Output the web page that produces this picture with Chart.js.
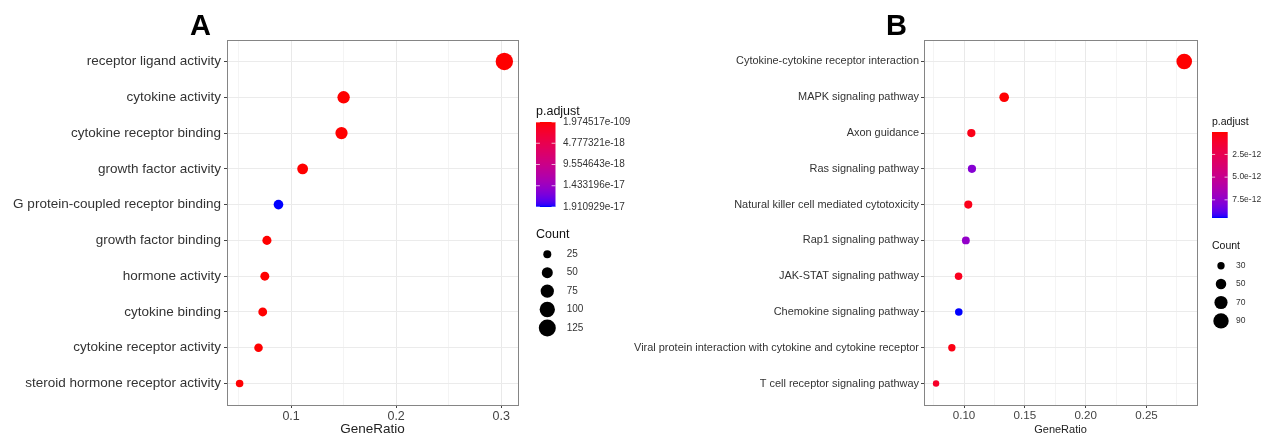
<!DOCTYPE html>
<html>
<head>
<meta charset="utf-8">
<script src="https://cdn.jsdelivr.net/npm/chart.js@4.4.0/dist/chart.umd.min.js"></script>
<style>
  html, body { margin: 0; padding: 0; background: #fff; }
  #wrap { position: relative; width: 1261px; height: 437px; overflow: hidden; }
  canvas { position: absolute; top: 0; }
  #cA { left: 0; }
  #cB { left: 620px; }
  .tag { position: absolute; top: 11px; font: bold 29px/29px "Liberation Sans", Arial, sans-serif; color: #000; }
</style>
</head>
<body>
<div id="wrap">
  <canvas id="cA" width="660" height="437"></canvas>
  <canvas id="cB" width="641" height="437"></canvas>
  <div class="tag" style="left:190px">A</div>
  <div class="tag" style="left:886px">B</div>
</div>
<script>
// ---- panel A (GO terms), top to bottom ----
const termsA = ['receptor ligand activity', 'cytokine activity', 'cytokine receptor binding',
  'growth factor activity', 'G protein-coupled receptor binding', 'growth factor binding',
  'hormone activity', 'cytokine binding', 'cytokine receptor activity', 'steroid hormone receptor activity'];
const ratioA = [0.303, 0.150, 0.148, 0.111, 0.088, 0.077, 0.075, 0.073, 0.069, 0.051];
const countA = [130, 64, 63, 48, 38, 33, 32, 31, 29, 22];
const padjA = [1.974517e-109, 2.1e-40, 5.3e-40, 3.0e-28, 1.910929e-17, 1.2e-20, 4.5e-21, 2.0e-21, 6.0e-22, 8.0e-20];
const xMajorA = [0.1, 0.2, 0.3];
const xMinorA = [0.05, 0.15, 0.25];
const xLabelsA = ['0.1', '0.2', '0.3'];
const padjTicksA = [1.974517e-109, 4.777321e-18, 9.554643e-18, 1.433196e-17, 1.910929e-17];
const padjLabelsA = ['1.974517e-109', '4.777321e-18', '9.554643e-18', '1.433196e-17', '1.910929e-17'];
const countKeysA = [25, 50, 75, 100, 125];

// ---- panel B (KEGG pathways), top to bottom ----
const termsB = ['Cytokine-cytokine receptor interaction', 'MAPK signaling pathway', 'Axon guidance',
  'Ras signaling pathway', 'Natural killer cell mediated cytotoxicity', 'Rap1 signaling pathway',
  'JAK-STAT signaling pathway', 'Chemokine signaling pathway',
  'Viral protein interaction with cytokine and cytokine receptor', 'T cell receptor signaling pathway'];
const ratioB = [0.281, 0.133, 0.106, 0.1065, 0.1035, 0.1015, 0.0955, 0.0957, 0.090, 0.077];
const countB = [92, 44, 35, 35, 34, 33, 31, 31, 30, 25];
const padjB = [3.1e-14, 6.2e-14, 4.5e-13, 7.8e-12, 5.1e-13, 7.4e-12, 6.4e-13, 9.5e-12, 3.3e-13, 9.2e-13];
const xMajorB = [0.10, 0.15, 0.20, 0.25];
const xMinorB = [0.075, 0.125, 0.175, 0.225, 0.275];
const xLabelsB = ['0.10', '0.15', '0.20', '0.25'];
const padjTicksB = [2.5e-12, 5.0e-12, 7.5e-12];
const padjLabelsB = ['2.5e-12', '5.0e-12', '7.5e-12'];
const countKeysB = [30, 50, 70, 90];

const FAMILY = '"Liberation Sans", Arial, sans-serif';

// red -> blue, interpolated in CIELAB like ggplot's gradient
const LAB_LO = [53.24, 80.09, 67.20];
const LAB_HI = [32.30, 79.19, -107.86];
function labToRgb(L, a, b) {
  let y = (L + 16) / 116, x = a / 500 + y, z = y - b / 200;
  const f = t => t * t * t > 0.008856 ? t * t * t : (t - 16 / 116) / 7.787;
  x = 0.95047 * f(x); y = f(y); z = 1.08883 * f(z);
  const lin = [x * 3.2406 - y * 1.5372 - z * 0.4986,
               -x * 0.9689 + y * 1.8758 + z * 0.0415,
               x * 0.0557 - y * 0.2040 + z * 1.0570];
  const gam = c => c > 0.0031308 ? 1.055 * Math.pow(c, 1 / 2.4) - 0.055 : 12.92 * c;
  return lin.map(c => Math.round(255 * Math.min(1, Math.max(0, gam(c)))));
}
function colorAt(t) {
  const lab = LAB_LO.map((v, i) => v + (LAB_HI[i] - v) * t);
  const [r, g, b] = labToRgb(...lab);
  return `rgb(${r},${g},${b})`;
}
function colorsFor(padj) {
  const lo = Math.min(...padj), hi = Math.max(...padj);
  return padj.map(p => colorAt((p - lo) / (hi - lo)));
}

// bubble radius in px
const sizeA = c => 0.35 + 0.73 * Math.sqrt(c);
const sizeB = c => Math.sqrt(c) - 1.8;

// shrink the long KEGG names to fit like the original
function fitFont(labels, family, width) {
  const c = document.createElement('canvas').getContext('2d');
  c.font = '10px ' + family;
  const w = Math.max(...labels.map(s => c.measureText(s).width));
  return Math.min(13.5, 10 * width / w);
}

// panel border + colourbar + size legend
function makeLegend(o) {
  return {
    id: 'sideLegend',
    afterDraw(chart) {
      const ctx = chart.ctx, area = chart.chartArea;
      const x = area.right + o.dx;
      ctx.save();
      ctx.strokeStyle = '#858585';
      ctx.lineWidth = 1;
      ctx.strokeRect(Math.round(area.left) + 0.5, Math.round(area.top) + 0.5,
        Math.round(area.right - area.left), Math.round(area.bottom - area.top));

      ctx.textBaseline = 'middle';
      ctx.textAlign = 'left';
      ctx.fillStyle = '#111';
      ctx.font = o.titleSize + 'px ' + FAMILY;
      ctx.fillText('p.adjust', x, o.barTop - 10);
      for (let i = 0; i < o.barH; i++) {
        ctx.fillStyle = colorAt(i / (o.barH - 1));
        ctx.fillRect(x, o.barTop + i, o.barW, 1);
      }
      const lo = Math.min(...o.padj), hi = Math.max(...o.padj);
      ctx.font = o.labelSize + 'px ' + FAMILY;
      o.ticks.forEach((v, i) => {
        const y = o.barTop + (v - lo) / (hi - lo) * o.barH;
        ctx.strokeStyle = 'rgba(255,255,255,0.7)';
        ctx.beginPath();
        ctx.moveTo(x, y); ctx.lineTo(x + o.barW / 5, y);
        ctx.moveTo(x + o.barW, y); ctx.lineTo(x + o.barW * 4 / 5, y);
        ctx.stroke();
        ctx.fillStyle = '#333';
        ctx.fillText(o.labels[i], x + o.barW + o.labelGap, y);
      });

      ctx.fillStyle = '#111';
      ctx.font = o.titleSize + 'px ' + FAMILY;
      ctx.fillText('Count', x, o.countTop);
      ctx.font = o.labelSize + 'px ' + FAMILY;
      o.keys.forEach((c, i) => {
        const y = o.countTop + o.firstGap + i * o.step;
        ctx.fillStyle = '#000';
        ctx.beginPath();
        ctx.arc(x + o.dotX, y, o.size(c), 0, Math.PI * 2);
        ctx.fill();
        ctx.fillStyle = '#333';
        ctx.fillText(String(c), x + o.textX, y);
      });
      ctx.restore();
    }
  };
}

function dotPlot(id, p) {
  const colors = colorsFor(p.padj);
  const ticks = [...p.minor, ...p.major].sort((a, b) => a - b);
  return new Chart(document.getElementById(id), {
    type: 'bubble',
    data: {
      datasets: [{
        data: p.ratio.map((x, i) => ({ x: x, y: i, r: p.size(p.count[i]) })),
        backgroundColor: colors,
        borderWidth: 0,
        hoverBorderWidth: 0
      }]
    },
    options: {
      responsive: false,
      devicePixelRatio: 1,
      animation: false,
      layout: { padding: { top: 40, right: p.padRight, left: 0, bottom: 0 } },
      plugins: { legend: { display: false }, tooltip: { enabled: false } },
      scales: {
        x: {
          type: 'linear',
          min: p.xMin,
          max: p.xMax,
          afterBuildTicks: s => { s.ticks = ticks.map(v => ({ value: v })); },
          afterFit: s => { s.height = 32; },
          border: { display: false },
          grid: {
            color: c => p.major.includes(c.tick.value) ? '#e9e9e9' : '#f4f4f4',
            tickColor: c => p.major.includes(c.tick.value) ? '#444' : 'rgba(0,0,0,0)',
            tickLength: 3
          },
          ticks: {
            autoSkip: false,
            maxRotation: 0,
            padding: 1,
            color: '#444',
            font: { family: FAMILY, size: p.xTickSize },
            callback: v => {
              const k = p.major.indexOf(v);
              return k >= 0 ? p.xLabels[k] : '';
            }
          },
          title: {
            display: true,
            text: 'GeneRatio',
            color: '#222',
            padding: 0,
            font: { family: FAMILY, size: p.xTitleSize }
          }
        },
        y: {
          type: 'linear',
          min: -0.6,
          max: p.terms.length - 0.4,
          reverse: true,
          afterBuildTicks: s => { s.ticks = p.terms.map((_, i) => ({ value: i })); },
          afterFit: s => { s.width = p.yWidth; },
          border: { display: false },
          grid: { color: '#ebebeb', tickColor: '#444', tickLength: 3 },
          ticks: {
            autoSkip: false,
            padding: p.yPad,
            color: '#333',
            font: { family: p.yFamily, size: p.ySize },
            callback: v => p.terms[v]
          }
        }
      }
    },
    plugins: [makeLegend(p.legend)]
  });
}

dotPlot('cA', {
  terms: termsA, ratio: ratioA, count: countA, padj: padjA, size: sizeA,
  major: xMajorA, minor: xMinorA, xLabels: xLabelsA,
  xMin: 0.039, xMax: 0.316, padRight: 142, yWidth: 227, yPad: 3,
  yFamily: FAMILY, ySize: 13.5, xTickSize: 12.5, xTitleSize: 13.5,
  legend: {
    dx: 18, barTop: 122, barH: 85, barW: 19.5, labelGap: 7.5,
    padj: padjA, ticks: padjTicksA, labels: padjLabelsA,
    titleSize: 12.5, labelSize: 10,
    countTop: 235, firstGap: 19.3, step: 18.4, dotX: 11.3, textX: 30.7,
    keys: countKeysA, size: sizeA
  }
});

const familyB = '"Liberation Sans Narrow", ' + FAMILY;
dotPlot('cB', {
  terms: termsB, ratio: ratioB, count: countB, padj: padjB, size: sizeB,
  major: xMajorB, minor: xMinorB, xLabels: xLabelsB,
  xMin: 0.0671, xMax: 0.2915, padRight: 64, yWidth: 304, yPad: 2,
  yFamily: familyB, ySize: fitFont(termsB, familyB, 285), xTickSize: 11.6, xTitleSize: 11,
  legend: {
    dx: 15, barTop: 132, barH: 86, barW: 15.7, labelGap: 4.6,
    padj: padjB, ticks: padjTicksB, labels: padjLabelsB,
    titleSize: 10.5, labelSize: 8.5,
    countTop: 246, firstGap: 19.7, step: 18.4, dotX: 9, textX: 24,
    keys: countKeysB, size: sizeB
  }
});
</script>
</body>
</html>
